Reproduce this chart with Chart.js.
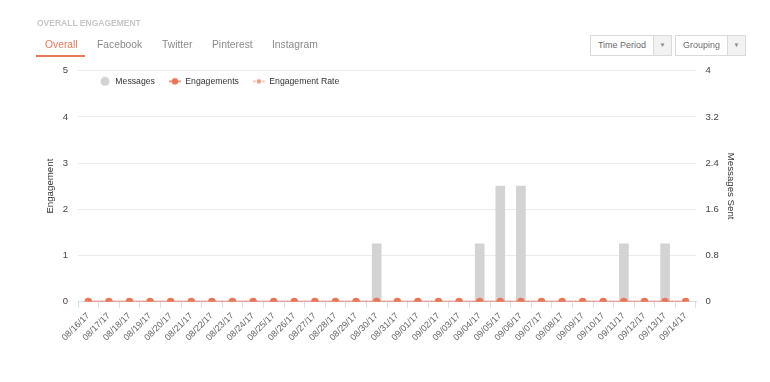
<!DOCTYPE html>
<html>
<head>
<meta charset="utf-8">
<script src="https://cdn.jsdelivr.net/npm/chart.js@4"></script>
<style>
  body { margin: 0; background: #fff; font-family: "Liberation Sans", Arial, sans-serif; }
  #wrap { position: relative; width: 770px; height: 382px; overflow: hidden; }
  #myChart { position: absolute; left: 0; top: 0; }
  .titulo { position: absolute; left: 37px; top: 18px; font-size: 8.5px; font-weight: bold; color: #c6c6c6; }
  .aba { position: absolute; top: 39px; font-size: 10.3px; color: #8a8a8a; }
  .aba.ativa { color: #e8775a; }
  .sublinhado { position: absolute; left: 36px; top: 55px; width: 49px; height: 2px; background: #e8775a; }
  .select { position: absolute; top: 35px; height: 19px; border: 1px solid #dadada; background: #fff; font-size: 9px; color: #6a6a6a; }
  .select .txt { position: absolute; left: 0; top: 0; height: 19px; line-height: 19px; text-align: center; }
  .select .seta { position: absolute; right: 0; top: 0; width: 17px; height: 19px; line-height: 19px; border-left: 1px solid #dadada; background: #f2f2f2; color: #888; font-size: 6px; text-align: center; }
</style>
</head>
<body>
<div id="wrap">
  <canvas id="myChart" width="770" height="382"></canvas>
  <div class="titulo">OVERALL ENGAGEMENT</div>
  <div class="aba ativa" style="left:45px">Overall</div>
  <div class="aba" style="left:97px">Facebook</div>
  <div class="aba" style="left:162px">Twitter</div>
  <div class="aba" style="left:212px">Pinterest</div>
  <div class="aba" style="left:272px">Instagram</div>
  <div class="sublinhado"></div>
  <div class="select" style="left:590px; width:80px"><span class="txt" style="width:62px">Time Period</span><span class="seta">&#9660;</span></div>
  <div class="select" style="left:675px; width:69px"><span class="txt" style="width:51px">Grouping</span><span class="seta">&#9660;</span></div>
</div>
<script>
// dados do grafico
const datas = ['08/16/17', '08/17/17', '08/18/17', '08/19/17', '08/20/17', '08/21/17', '08/22/17', '08/23/17',
  '08/24/17', '08/25/17', '08/26/17', '08/27/17', '08/28/17', '08/29/17', '08/30/17', '08/31/17',
  '09/01/17', '09/02/17', '09/03/17', '09/04/17', '09/05/17', '09/06/17', '09/07/17', '09/08/17',
  '09/09/17', '09/10/17', '09/11/17', '09/12/17', '09/13/17', '09/14/17'];
const mensagens = [0, 0, 0, 0, 0, 0, 0, 0, 0, 0, 0, 0, 0, 0, 1, 0, 0, 0, 0, 1, 2, 2, 0, 0, 0, 0, 1, 0, 1, 0];
const engajamentos = [0, 0, 0, 0, 0, 0, 0, 0, 0, 0, 0, 0, 0, 0, 0, 0, 0, 0, 0, 0, 0, 0, 0, 0, 0, 0, 0, 0, 0, 0];
const taxaEngajamento = [0, 0, 0, 0, 0, 0, 0, 0, 0, 0, 0, 0, 0, 0, 0, 0, 0, 0, 0, 0, 0, 0, 0, 0, 0, 0, 0, 0, 0, 0];
const nomesSeries = ['Messages', 'Engagements', 'Engagement Rate'];

const laranja = '#e8775a';
const fonte = '"Liberation Sans", Arial, sans-serif';

// desenha os marcadores da legenda
function marcador(tipo) {
  const c = document.createElement('canvas');
  c.width = 12; c.height = 10;
  const g = c.getContext('2d');
  if (tipo == 0) {
    g.fillStyle = '#d3d3d3';
    g.beginPath(); g.arc(6, 5, 4.5, 0, Math.PI * 2); g.fill();
  } else if (tipo == 1) {
    g.strokeStyle = laranja; g.lineWidth = 1.5;
    g.beginPath(); g.moveTo(0, 5); g.lineTo(12, 5); g.stroke();
    g.fillStyle = laranja;
    g.beginPath(); g.arc(6, 5, 3.2, 0, Math.PI * 2); g.fill();
  } else {
    g.strokeStyle = '#ee9a82'; g.lineWidth = 1.2;
    g.beginPath(); g.moveTo(0, 5); g.lineTo(3, 5); g.moveTo(9, 5); g.lineTo(12, 5); g.stroke();
    g.fillStyle = '#ee9a82';
    g.beginPath(); g.arc(6, 5, 2.2, 0, Math.PI * 2); g.fill();
  }
  return c;
}
const marcadores = [marcador(0), marcador(1), marcador(2)];

// coloca a legenda dentro da area do grafico
const moverLegenda = {
  id: 'moverLegenda',
  afterLayout(chart) {
    const leg = chart.legend;
    const w = leg.width, h = leg.height;
    leg.left = 85; leg.right = leg.left + w;
    leg.top = 63; leg.bottom = leg.top + h;
  }
};

const ctx = document.getElementById('myChart');
Chart.defaults.font.family = fonte;
Chart.defaults.color = '#444';

new Chart(ctx, {
  type: 'bar',
  plugins: [moverLegenda],
  data: {
    labels: datas,
    datasets: [{
      label: nomesSeries[0],
      data: mensagens,
      yAxisID: 'y1',
      backgroundColor: '#d3d3d3',
      barThickness: 9,
      order: 3
    }, {
      type: 'line',
      label: nomesSeries[1],
      data: engajamentos,
      yAxisID: 'y',
      borderColor: laranja,
      borderWidth: 1.5,
      pointRadius: 3.8,
      pointBackgroundColor: laranja,
      pointBorderWidth: 0,
      order: 1
    }, {
      type: 'line',
      label: nomesSeries[2],
      data: taxaEngajamento,
      yAxisID: 'y',
      borderColor: '#ee9a82',
      borderDash: [3, 3],
      borderWidth: 1.2,
      pointRadius: 2,
      pointBackgroundColor: '#ee9a82',
      pointBorderWidth: 0,
      order: 2
    }]
  },
  options: {
    responsive: false,
    animation: false,
    layout: { padding: { left: 41, right: 30, top: 38, bottom: 36 } },
    plugins: {
      tooltip: { enabled: false },
      legend: {
        position: 'top',
        align: 'start',
        fullSize: false,
        labels: {
          usePointStyle: true,
          pointStyleWidth: 12,
          padding: 14,
          color: '#333',
          font: { size: 8.7 },
          generateLabels: (chart) => chart.data.datasets.map((ds, i) => ({
            text: ds.label,
            pointStyle: marcadores[i],
            fillStyle: 'transparent',
            strokeStyle: 'transparent',
            lineWidth: 0,
            fontColor: '#333',
            hidden: false,
            datasetIndex: i
          }))
        }
      }
    },
    scales: {
      x: {
        offset: true,
        grid: { offset: true, drawOnChartArea: false, color: '#cfe0f1', tickLength: 6 },
        border: { color: '#cfe0f1' },
        ticks: { autoSkip: false, minRotation: 45, maxRotation: 45, color: '#666', font: { size: 9 }, padding: 3 },
        // os rotulos inclinados nao devem empurrar a area do grafico
        afterFit: (escala) => { escala.paddingLeft = 0; escala.paddingRight = 0; }
      },
      y: {
        position: 'left',
        min: 0,
        max: 5,
        ticks: { stepSize: 1, padding: 10, color: '#444', font: { size: 9.5 } },
        grid: { color: '#ebebeb', drawTicks: false },
        border: { display: false },
        title: { display: true, text: 'Engagement', color: '#333', font: { size: 9.7 }, padding: { top: 4, bottom: 6 } },
        afterFit: (escala) => { escala.width = 37; }
      },
      y1: {
        position: 'right',
        min: 0,
        max: 4,
        ticks: { stepSize: 0.8, padding: 9.5, color: '#444', font: { size: 9.5 }, callback: (v) => +v.toFixed(1) },
        grid: { drawOnChartArea: false, drawTicks: false },
        border: { display: false },
        title: { display: true, text: 'Messages Sent', color: '#333', font: { size: 9.7 }, padding: { top: 4, bottom: 5.5 } },
        afterFit: (escala) => { escala.width = 44; }
      }
    }
  }
});
</script>
</body>
</html>
